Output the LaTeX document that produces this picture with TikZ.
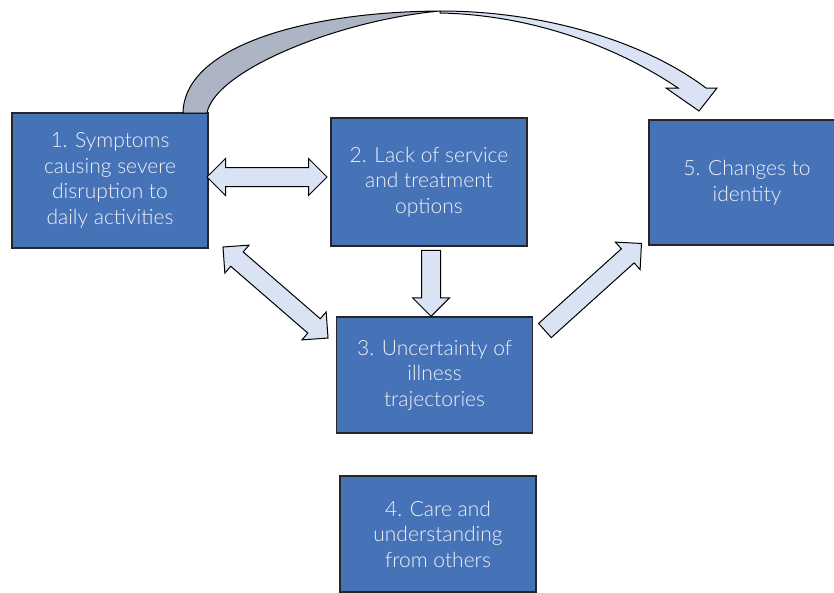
\documentclass[tikz,border=0pt]{standalone}
\usepackage{fontspec}
\IfFontExistsTF{Lato Light}{\setmainfont{Lato Light}}{\setmainfont{Lato}}
\usetikzlibrary{shapes.arrows}

\definecolor{boxblue}{RGB}{70,114,184}
\definecolor{arrowfill}{RGB}{218,227,243}
\definecolor{bandgray}{RGB}{173,181,196}
\definecolor{textwhite}{RGB}{240,242,246}

\tikzset{
    theme/.style={draw=black!85, line width=1.2pt, fill=boxblue, text=textwhite, align=center,
        font=\fontsize{21}{25.5}\selectfont, minimum width=196pt, inner sep=0pt},
    onearrow/.style={draw=black, line width=1pt, fill=arrowfill, single arrow,
        single arrow head extend=9pt, inner xsep=0pt, inner ysep=9pt, sloped, allow upside down},
    twoarrow/.style={draw=black, line width=1pt, fill=arrowfill, double arrow,
        double arrow head extend=9pt, inner xsep=0pt, inner ysep=9pt, sloped, allow upside down}
}

\begin{document}
\begin{tikzpicture}[x=1pt, y=-1pt]
        \useasboundingbox (0,0) rectangle (834,592);

        \node[theme, minimum height=135pt] (symptoms) at (110,180.5) {1. Symptoms\\causing severe\\disruption to\\daily activities};
        \node[theme, minimum height=128pt] (service) at (429,182) {2. Lack of service\\and treatment\\options};
        \node[theme, minimum height=116pt] (uncertainty) at (434.5,375) {3. Uncertainty of\\illness\\trajectories};
        \node[theme, minimum height=116pt] (care) at (438,534) {4. Care and\\understanding\\from others};
        \node[theme, minimum height=125pt] (identity) at (747,182.5) {5. Changes to\\identity};

        % arrow ends
        \coordinate (symR) at (207,177);
        \coordinate (serL) at (327,177);
        \coordinate (serB) at (431,251);
        \coordinate (uncT) at (431,317);
        \coordinate (symB) at (223,247);
        \coordinate (uncL) at (328,338);
        \coordinate (uncR) at (545.5,330);
        \coordinate (ideL) at (642,243);

        \path (symR) -- (serL) node[midway, twoarrow, minimum height=120pt] {};
        \path (serB) -- (uncT) node[pos=1, anchor=tip, onearrow, minimum height=66pt] {};
        \path (symB) -- (uncL) node[midway, twoarrow, minimum height=139pt] {};
        \path (uncR) -- (ideL) node[pos=1, anchor=tip, onearrow, minimum height=130pt] {};

        % curved arrow from 1 to 5
        \filldraw[fill=bandgray, draw=black, line width=1pt] (183,113) .. controls (184,48) and (300,12) .. (440,11)
            .. controls (340,20) and (215,70) .. (207,113) -- cycle;
        \filldraw[fill=arrowfill, draw=black, line width=1pt] (440,11) .. controls (545,11) and (645,42) .. (706,88)
            -- (717,88) -- (699,111) -- (666,88) -- (678,88)
            .. controls (625,52) and (540,15) .. (440,13) -- cycle;
\end{tikzpicture}
\end{document}
